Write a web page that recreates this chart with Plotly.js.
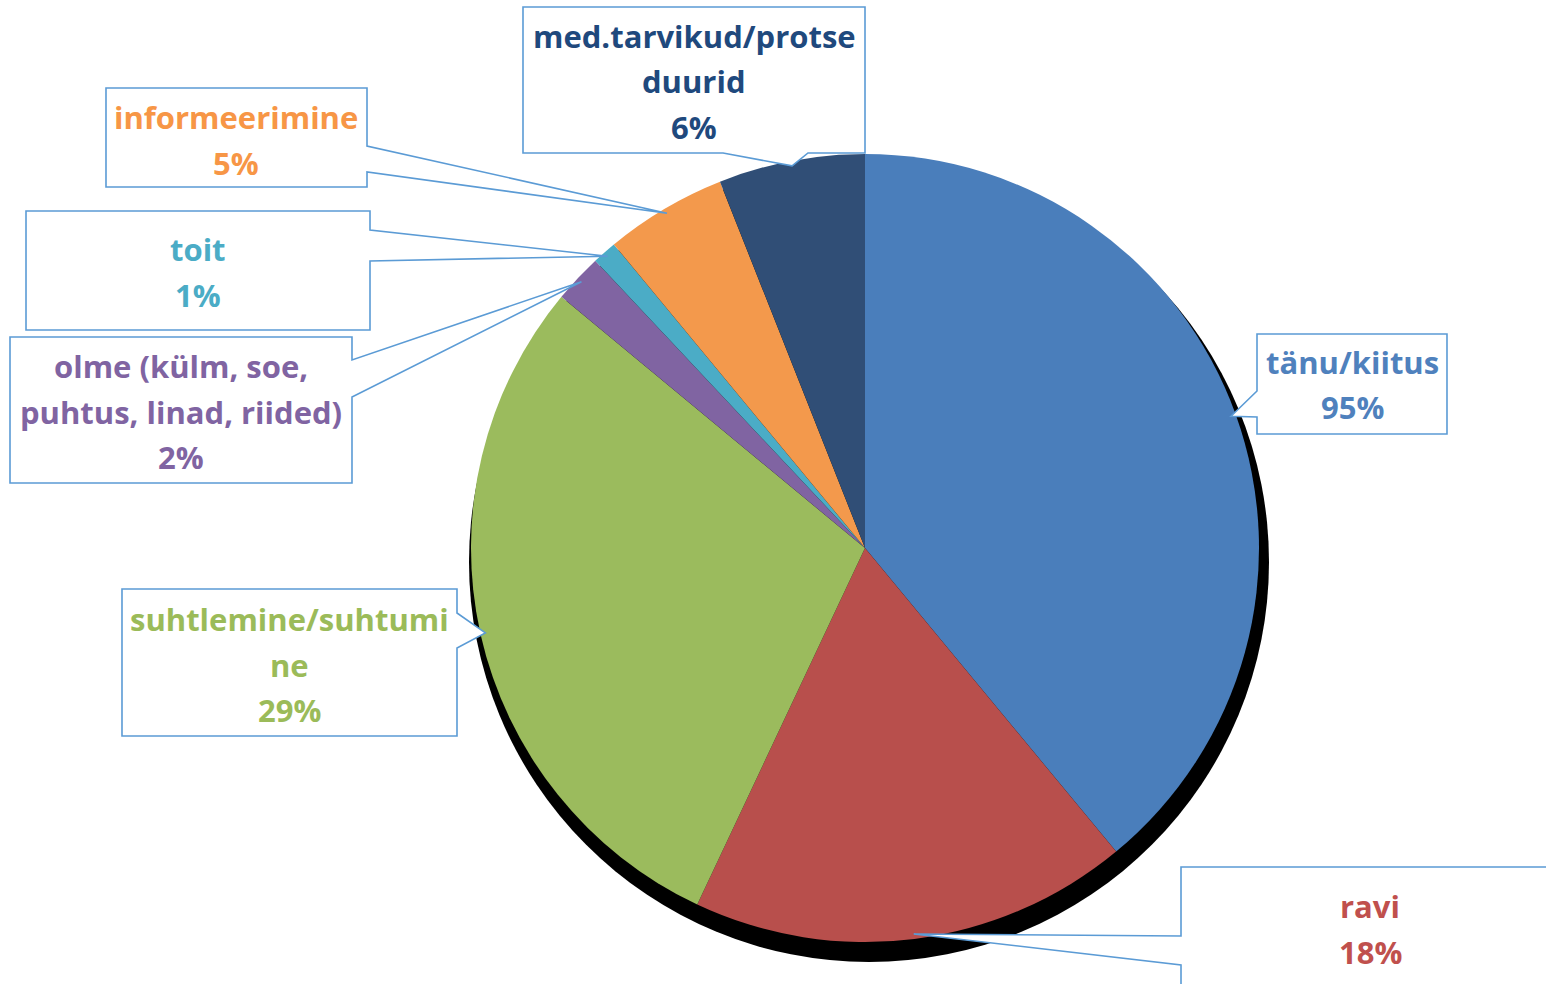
<!DOCTYPE html>
<html>
<head>
<meta charset="utf-8">
<script src="https://cdn.plot.ly/plotly-3.0.1.min.js"></script>
<style>
html,body{margin:0;padding:0;background:#fff;}
#chart{width:1546px;height:984px;}
</style>
</head>
<body>
<div id="chart"></div>
<script>
// ---- data ----
var categories = ['tänu/kiitus', 'ravi', 'suhtlemine/suhtumine', 'olme (külm, soe, puhtus, linad, riided)', 'toit', 'informeerimine', 'med.tarvikud/protseduurid'];
var sliceValues = [39, 18, 29, 2, 1, 5, 6];
var labelPercents = ['95%', '18%', '29%', '2%', '1%', '5%', '6%'];
var labelLines = [
  ['tänu/kiitus'],
  ['ravi'],
  ['suhtlemine/suhtumi', 'ne'],
  ['olme (külm, soe,', 'puhtus, linad, riided)'],
  ['toit'],
  ['informeerimine'],
  ['med.tarvikud/protse', 'duurid']
];
var sliceColors = ['#4A7EBB', '#B84F4C', '#9BBB5D', '#8064A2', '#4BACC6', '#F3994C', '#304E76'];
var textColors = ['#4F81BD', '#C0504D', '#9BBB59', '#8064A2', '#4BACC6', '#F79646', '#1F497D'];

// ---- layout helpers ----
var W = 1546, H = 984;
var CX = 865, CY = 548, R = 394;
function px(x) { return x / W; }
function py(y) { return 1 - y / H; }

// label boxes: rect [x0,y0,x1,y1], callout side, callout base, text center x, first line y
var boxes = [
  {rect: [1257, 334, 1447, 434], side: 'left', base: [391, 417], tx: 1352, ty: 362},
  {rect: [1181, 867, 1600, 1040], side: 'left', base: [936, 965], tx: 1370, ty: 906},
  {rect: [122, 589, 457, 736], side: 'right', base: [613, 648], tx: 289, ty: 619},
  {rect: [10, 337, 352, 483], side: 'right', base: [360, 397], tx: 181, ty: 366},
  {rect: [26, 211, 370, 330], side: 'right', base: [230, 261], tx: 198, ty: 249},
  {rect: [106, 88, 367, 187], side: 'right', base: [146, 172], tx: 236, ty: 117},
  {rect: [523, 7, 865, 153], side: 'bottom', base: [723, 808], tx: 694, ty: 36}
];
var LINE_H = 45.5;

var total = sliceValues.reduce(function (a, b) { return a + b; }, 0);
var shapes = [];
var annotations = [];

// shadow under pie
shapes.push({type: 'circle', xref: 'paper', yref: 'paper', layer: 'below',
  x0: px(869 - 400), x1: px(869 + 400), y0: py(562 + 400), y1: py(562 - 400),
  fillcolor: '#000', line: {width: 0}});

var cum = 0;
for (var i = 0; i < sliceValues.length; i++) {
  var mid = (cum + sliceValues[i] / 2) / total * 2 * Math.PI;
  cum += sliceValues[i];
  var rt = R - 5;
  var tipx = CX + rt * Math.sin(mid), tipy = CY - rt * Math.cos(mid);
  var b = boxes[i], r = b.rect;
  var pts;
  if (b.side === 'right') {
    pts = [[r[0], r[1]], [r[2], r[1]], [r[2], b.base[0]], [tipx, tipy], [r[2], b.base[1]], [r[2], r[3]], [r[0], r[3]]];
  } else if (b.side === 'left') {
    pts = [[r[0], r[1]], [r[2], r[1]], [r[2], r[3]], [r[0], r[3]], [r[0], b.base[1]], [tipx, tipy], [r[0], b.base[0]]];
  } else {
    pts = [[r[0], r[1]], [r[2], r[1]], [r[2], r[3]], [b.base[1], r[3]], [tipx, tipy], [b.base[0], r[3]], [r[0], r[3]]];
  }
  var path = pts.map(function (p, k) { return (k === 0 ? 'M' : 'L') + px(p[0]).toFixed(5) + ',' + py(p[1]).toFixed(5); }).join(' ') + ' Z';
  shapes.push({type: 'path', xref: 'paper', yref: 'paper', layer: 'above', path: path,
    fillcolor: 'rgba(255,255,255,1)', line: {color: '#5B9BD5', width: 1.6}});

  var lines = labelLines[i].concat([labelPercents[i]]);
  for (var j = 0; j < lines.length; j++) {
    annotations.push({xref: 'paper', yref: 'paper', x: px(b.tx), y: py(b.ty + j * LINE_H),
      xanchor: 'center', yanchor: 'middle', showarrow: false, text: lines[j],
      font: {family: '"Open Sans", sans-serif', size: 31, color: textColors[i], weight: 'bold'}});
  }
}

var data = [{
  type: 'pie',
  labels: categories,
  values: sliceValues,
  sort: false,
  direction: 'clockwise',
  rotation: 0,
  textinfo: 'none',
  hoverinfo: 'label+value',
  marker: {colors: sliceColors, line: {width: 0}},
  domain: {x: [px(CX - R), px(CX + R)], y: [py(CY + R), py(CY - R)]},
  showlegend: false
}];

var layout = {
  width: W, height: H,
  margin: {l: 0, r: 0, t: 0, b: 0},
  paper_bgcolor: '#fff',
  showlegend: false,
  shapes: shapes,
  annotations: annotations
};

Plotly.newPlot('chart', data, layout, {displayModeBar: false, staticPlot: true});
</script>
</body>
</html>
